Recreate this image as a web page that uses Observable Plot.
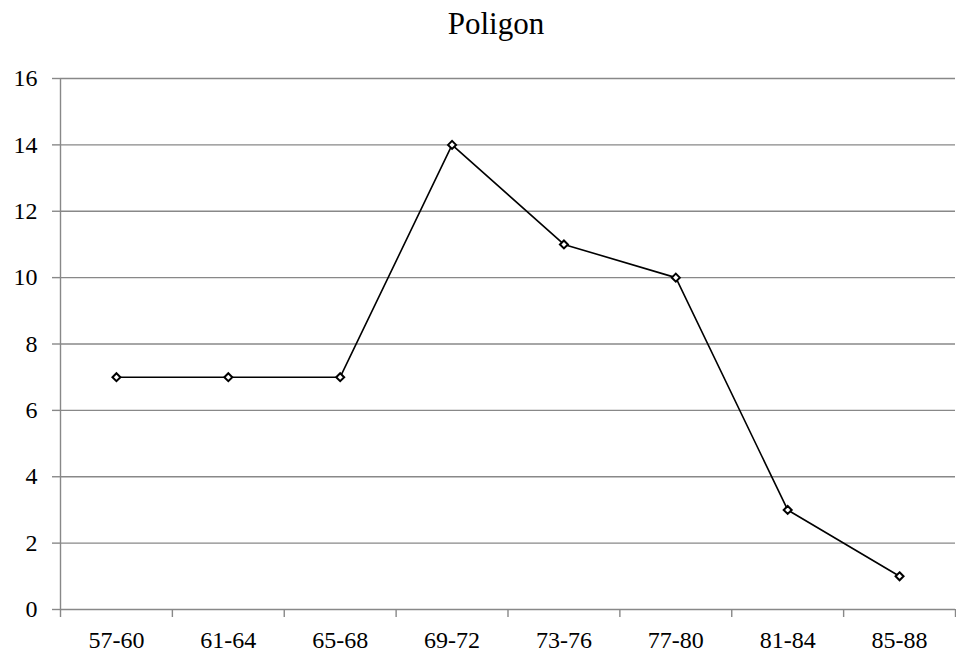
<!DOCTYPE html>
<html>
<head>
<meta charset="utf-8">
<script src="https://cdn.jsdelivr.net/npm/d3@7"></script>
<script src="https://cdn.jsdelivr.net/npm/@observablehq/plot@0.6"></script>
<style>
  html, body { margin: 0; padding: 0; background: #fff; }
  svg { display: block; }
  #chart svg, #chart svg text, #chart svg g { font-family: "Liberation Serif", "Times New Roman", "DejaVu Serif", serif !important; }
</style>
</head>
<body>
<div id="chart"></div>
<script>
const title = "Poligon";
const categories = ["57-60", "61-64", "65-68", "69-72", "73-76", "77-80", "81-84", "85-88"];
const values = [7, 7, 7, 14, 11, 10, 3, 1];
const yTicks = [0, 2, 4, 6, 8, 10, 12, 14, 16];

const data = categories.map((c, i) => ({cat: c, idx: i + 0.5, value: values[i]}));
const boundaries = d3.range(categories.length + 1);
const labelPos = categories.map((c, i) => i + 0.5);

const grid = "#888888";
const serif = "Liberation Serif, Times New Roman, DejaVu Serif, serif";

const chart = Plot.plot({
  width: 956,
  height: 655,
  marginLeft: 60,
  marginRight: 1,
  marginTop: 78,
  marginBottom: 46,
  style: {fontFamily: serif, fontSize: "24px", color: "#000", background: "#fff"},
  x: {type: "linear", domain: [0, categories.length]},
  y: {domain: [0, 16]},
  marks: [
    Plot.ruleY(yTicks.filter(d => d > 0), {stroke: grid, strokeWidth: 1.4}),
    Plot.ruleX([0], {stroke: grid, strokeWidth: 1.4}),
    Plot.ruleY([0], {stroke: grid, strokeWidth: 1.4}),
    Plot.axisY({ticks: yTicks, tickSize: 8, tickPadding: 15, stroke: grid, strokeWidth: 1.4, label: null, fontSize: 24, fontFamily: serif, fill: "#000"}),
    Plot.axisX({ticks: boundaries, tickSize: 8, tickFormat: () => "", stroke: grid, strokeWidth: 1.4, label: null}),
    Plot.axisX({ticks: labelPos, tickSize: 0, tickPadding: 21, tickFormat: d => categories[Math.floor(d)], label: null, fontSize: 24, fontFamily: serif, fill: "#000"}),
    Plot.line(data, {x: "idx", y: "value", stroke: "#000", strokeWidth: 1.6}),
    Plot.dot(data, {x: "idx", y: "value", symbol: "diamond2", r: 3.6, fill: "#fff", stroke: "#000", strokeWidth: 2}),
    Plot.text([title], {frameAnchor: "top", lineAnchor: "middle", dx: -12, dy: -54, fontSize: 31, fontFamily: serif, fill: "#000"})
  ]
});
document.getElementById("chart").appendChild(chart);
</script>
</body>
</html>
